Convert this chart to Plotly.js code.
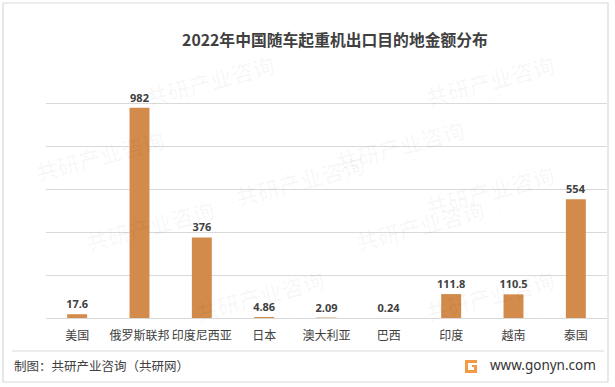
<!DOCTYPE html>
<html><head><meta charset="utf-8">
<script src="https://cdn.plot.ly/plotly-3.0.1.min.js"></script>
<style>html,body{margin:0;padding:0;background:#fff}#c{width:615px;height:387px}</style>
</head><body><div id="c"></div>
<script>
const categories = ['美国','俄罗斯联邦','印度尼西亚','日本','澳大利亚','巴西','印度','越南','泰国'];
const values = [17.6, 982, 376, 4.86, 2.09, 0.24, 111.8, 110.5, 554];
const valueLabels = ['17.6','982','376','4.86','2.09','0.24','111.8','110.5','554'];
const chartTitle = '2022年中国随车起重机出口目的地金额分布';
const sourceText = '制图：共研产业咨询（共研网）';
const siteText = 'www.gonyn.com';

const W = 615, H = 387, L = 46, R = 607, T = 61, B = 318;
const px = x => (x - L) / (R - L);
const py = y => (B - y) / (B - T);
const cjk = '"Noto Sans CJK SC", "Noto Sans", sans-serif';

const shapes = [
  {type:'rect', xref:'paper', yref:'paper', x0:px(3), x1:px(608), y0:py(382), y1:py(3), line:{color:'#d9d9d9', width:1.2}, layer:'below'},
  {type:'line', xref:'paper', yref:'paper', x0:px(12), x1:px(604), y0:py(351), y1:py(351), line:{color:'#d9d9d9', width:1}},
  // logo
  {type:'path', xref:'paper', yref:'paper',
   path:`M ${px(465)} ${py(360)} L ${px(477)} ${py(360)} L ${px(477)} ${py(363)} L ${px(468)} ${py(363)} L ${px(468)} ${py(370)} L ${px(474)} ${py(370)} L ${px(474)} ${py(367)} L ${px(472)} ${py(367)} L ${px(472)} ${py(365)} L ${px(477)} ${py(365)} L ${px(477)} ${py(373)} L ${px(465)} ${py(373)} Z`,
   fillcolor:'#f39a45', line:{width:0}}
];

const annotations = [
  {text: sourceText, xref:'paper', yref:'paper', x:px(12), y:py(365), xanchor:'left', yanchor:'middle', showarrow:false, font:{family:cjk, size:12.5, color:'#404040'}},
  {text: siteText, xref:'paper', yref:'paper', x:px(598), y:py(365), xanchor:'right', yanchor:'middle', showarrow:false, font:{family:'"Noto Sans", sans-serif', size:13.5, color:'#333'}}
];
// faint watermarks
const wm = [[140,45],[560,45],[30,120],[400,110],[230,180],[560,190],[80,260],[420,260],[260,330],[560,330]];
wm.forEach(([x,y]) => {
  annotations.push({text:'<b>共研产业咨询</b>', xref:'paper', yref:'paper', x:px(x), y:py(y), showarrow:false, textangle:-15, font:{family:cjk, size:22, color:'rgba(0,0,0,0.028)'}});
  annotations.push({text:'w w w . g o n y n . c o m', xref:'paper', yref:'paper', x:px(x+10), y:py(y+22), showarrow:false, textangle:-15, font:{family:'"Noto Sans", sans-serif', size:13, color:'rgba(0,0,0,0.028)'}});
});

const trace = {
  type:'bar', x:categories, y:values, text:valueLabels, textposition:'outside', cliponaxis:false, constraintext:'none',
  textfont:{family:'"Noto Sans", sans-serif', size:11, color:'#404040', weight:'bold'},
  marker:{color:'#d38b4b'}, hoverinfo:'none'
};

const layout = {
  width:W, height:H, margin:{l:L, r:W-R, t:T, b:H-B, pad:0},
  paper_bgcolor:'#fff', plot_bgcolor:'#fff', showlegend:false, bargap:0.68,
  title:{text:chartTitle, x:335/W, xref:'container', xanchor:'center', y:1-40/H, yref:'container', yanchor:'middle',
         font:{family:cjk, size:15.8, color:'#404040', weight:'bold'}},
  xaxis:{type:'category', showline:true, linecolor:'#d9d9d9', linewidth:1, ticks:'', showgrid:false,
         tickfont:{family:cjk, size:12, color:'#404040'}, ticklabelstandoff:7, fixedrange:true},
  yaxis:{range:[0,1200], dtick:200, showticklabels:false, showgrid:true, gridcolor:'#d9d9d9', gridwidth:1, zeroline:false, fixedrange:true},
  shapes:shapes, annotations:annotations
};
Plotly.newPlot('c', [trace], layout, {displayModeBar:false, staticPlot:true});
</script></body></html>
